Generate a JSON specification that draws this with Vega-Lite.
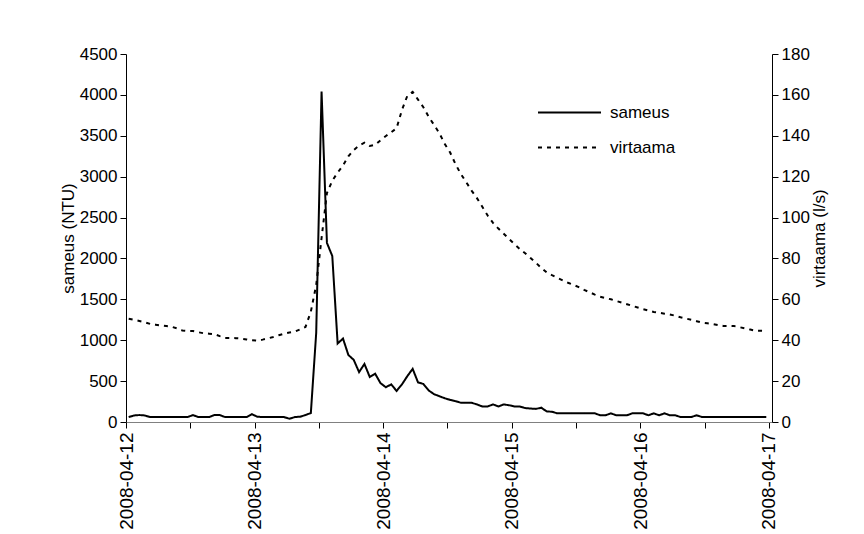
{
  "$schema": "https://vega.github.io/schema/vega-lite/v6.json",
  "width": 646,
  "height": 368,
  "autosize": {"type": "none"},
  "padding": {"left": 126, "top": 54, "right": 92, "bottom": 112},
  "background": "white",
  "config": {
    "view": {"stroke": null},
    "font": "Liberation Sans, Arial, sans-serif",
    "axis": {
      "grid": false,
      "domainColor": "#000000",
      "tickColor": "#000000",
      "labelColor": "#000000",
      "titleColor": "#000000",
      "domainWidth": 1,
      "tickWidth": 1,
      "tickSize": 6,
      "titleFontWeight": "normal",
      "labelFont": "Liberation Sans, Arial, sans-serif",
      "titleFont": "Liberation Sans, Arial, sans-serif"
    }
  },
  "data": {"values": [
    {"t":"2008-04-12T00:30:00Z","sameus":60,"virtaama":50.5},
    {"t":"2008-04-12T01:30:00Z","sameus":80,"virtaama":50.0},
    {"t":"2008-04-12T02:30:00Z","sameus":85,"virtaama":49.4},
    {"t":"2008-04-12T03:30:00Z","sameus":80,"virtaama":48.8},
    {"t":"2008-04-12T04:30:00Z","sameus":60,"virtaama":48.0},
    {"t":"2008-04-12T05:30:00Z","sameus":60,"virtaama":47.6},
    {"t":"2008-04-12T06:30:00Z","sameus":60,"virtaama":47.2},
    {"t":"2008-04-12T07:30:00Z","sameus":60,"virtaama":46.9},
    {"t":"2008-04-12T08:30:00Z","sameus":60,"virtaama":46.6},
    {"t":"2008-04-12T09:30:00Z","sameus":60,"virtaama":45.8},
    {"t":"2008-04-12T10:30:00Z","sameus":60,"virtaama":44.8},
    {"t":"2008-04-12T11:30:00Z","sameus":60,"virtaama":44.5},
    {"t":"2008-04-12T12:30:00Z","sameus":85,"virtaama":44.5},
    {"t":"2008-04-12T13:30:00Z","sameus":60,"virtaama":43.9},
    {"t":"2008-04-12T14:30:00Z","sameus":60,"virtaama":43.4},
    {"t":"2008-04-12T15:30:00Z","sameus":60,"virtaama":43.2},
    {"t":"2008-04-12T16:30:00Z","sameus":85,"virtaama":43.0},
    {"t":"2008-04-12T17:30:00Z","sameus":85,"virtaama":42.0},
    {"t":"2008-04-12T18:30:00Z","sameus":60,"virtaama":41.1},
    {"t":"2008-04-12T19:30:00Z","sameus":60,"virtaama":41.1},
    {"t":"2008-04-12T20:30:00Z","sameus":60,"virtaama":41.0},
    {"t":"2008-04-12T21:30:00Z","sameus":60,"virtaama":40.8},
    {"t":"2008-04-12T22:30:00Z","sameus":60,"virtaama":40.4},
    {"t":"2008-04-12T23:30:00Z","sameus":95,"virtaama":40.0},
    {"t":"2008-04-13T00:30:00Z","sameus":65,"virtaama":39.8},
    {"t":"2008-04-13T01:30:00Z","sameus":60,"virtaama":40.3},
    {"t":"2008-04-13T02:30:00Z","sameus":60,"virtaama":40.9},
    {"t":"2008-04-13T03:30:00Z","sameus":60,"virtaama":41.6},
    {"t":"2008-04-13T04:30:00Z","sameus":60,"virtaama":42.4},
    {"t":"2008-04-13T05:30:00Z","sameus":60,"virtaama":43.2},
    {"t":"2008-04-13T06:30:00Z","sameus":40,"virtaama":43.8},
    {"t":"2008-04-13T07:30:00Z","sameus":60,"virtaama":44.2},
    {"t":"2008-04-13T08:30:00Z","sameus":65,"virtaama":45.3},
    {"t":"2008-04-13T09:30:00Z","sameus":85,"virtaama":46.5},
    {"t":"2008-04-13T10:30:00Z","sameus":110,"virtaama":54},
    {"t":"2008-04-13T11:30:00Z","sameus":1090,"virtaama":67},
    {"t":"2008-04-13T12:30:00Z","sameus":4040,"virtaama":90},
    {"t":"2008-04-13T13:30:00Z","sameus":2190,"virtaama":112},
    {"t":"2008-04-13T14:30:00Z","sameus":2030,"virtaama":118},
    {"t":"2008-04-13T15:30:00Z","sameus":960,"virtaama":122},
    {"t":"2008-04-13T16:30:00Z","sameus":1020,"virtaama":125.5},
    {"t":"2008-04-13T17:30:00Z","sameus":820,"virtaama":130},
    {"t":"2008-04-13T18:30:00Z","sameus":760,"virtaama":133},
    {"t":"2008-04-13T19:30:00Z","sameus":610,"virtaama":135.2},
    {"t":"2008-04-13T20:30:00Z","sameus":710,"virtaama":136.6},
    {"t":"2008-04-13T21:30:00Z","sameus":550,"virtaama":135},
    {"t":"2008-04-13T22:30:00Z","sameus":590,"virtaama":135.6},
    {"t":"2008-04-13T23:30:00Z","sameus":475,"virtaama":137.8},
    {"t":"2008-04-14T00:30:00Z","sameus":425,"virtaama":139.9},
    {"t":"2008-04-14T01:30:00Z","sameus":460,"virtaama":141.7},
    {"t":"2008-04-14T02:30:00Z","sameus":380,"virtaama":143.7},
    {"t":"2008-04-14T03:30:00Z","sameus":460,"virtaama":152.6},
    {"t":"2008-04-14T04:30:00Z","sameus":560,"virtaama":159.5},
    {"t":"2008-04-14T05:30:00Z","sameus":650,"virtaama":161.5},
    {"t":"2008-04-14T06:30:00Z","sameus":485,"virtaama":157.7},
    {"t":"2008-04-14T07:30:00Z","sameus":465,"virtaama":154},
    {"t":"2008-04-14T08:30:00Z","sameus":385,"virtaama":149.2},
    {"t":"2008-04-14T09:30:00Z","sameus":340,"virtaama":145.3},
    {"t":"2008-04-14T10:30:00Z","sameus":315,"virtaama":141.2},
    {"t":"2008-04-14T11:30:00Z","sameus":290,"virtaama":136},
    {"t":"2008-04-14T12:30:00Z","sameus":270,"virtaama":131.8},
    {"t":"2008-04-14T13:30:00Z","sameus":255,"virtaama":126.1},
    {"t":"2008-04-14T14:30:00Z","sameus":235,"virtaama":121.3},
    {"t":"2008-04-14T15:30:00Z","sameus":235,"virtaama":117.3},
    {"t":"2008-04-14T16:30:00Z","sameus":235,"virtaama":113.2},
    {"t":"2008-04-14T17:30:00Z","sameus":215,"virtaama":109.5},
    {"t":"2008-04-14T18:30:00Z","sameus":190,"virtaama":105.3},
    {"t":"2008-04-14T19:30:00Z","sameus":190,"virtaama":101},
    {"t":"2008-04-14T20:30:00Z","sameus":215,"virtaama":97.4},
    {"t":"2008-04-14T21:30:00Z","sameus":190,"virtaama":94.6},
    {"t":"2008-04-14T22:30:00Z","sameus":215,"virtaama":92.1},
    {"t":"2008-04-14T23:30:00Z","sameus":205,"virtaama":89.5},
    {"t":"2008-04-15T00:30:00Z","sameus":190,"virtaama":87},
    {"t":"2008-04-15T01:30:00Z","sameus":190,"virtaama":84.6},
    {"t":"2008-04-15T02:30:00Z","sameus":170,"virtaama":82.5},
    {"t":"2008-04-15T03:30:00Z","sameus":165,"virtaama":80.2},
    {"t":"2008-04-15T04:30:00Z","sameus":160,"virtaama":77.9},
    {"t":"2008-04-15T05:30:00Z","sameus":175,"virtaama":75.4},
    {"t":"2008-04-15T06:30:00Z","sameus":130,"virtaama":73.2},
    {"t":"2008-04-15T07:30:00Z","sameus":125,"virtaama":71.8},
    {"t":"2008-04-15T08:30:00Z","sameus":106,"virtaama":70.5},
    {"t":"2008-04-15T09:30:00Z","sameus":106,"virtaama":69.3},
    {"t":"2008-04-15T10:30:00Z","sameus":106,"virtaama":68.1},
    {"t":"2008-04-15T11:30:00Z","sameus":106,"virtaama":67.1},
    {"t":"2008-04-15T12:30:00Z","sameus":106,"virtaama":66},
    {"t":"2008-04-15T13:30:00Z","sameus":106,"virtaama":64.6},
    {"t":"2008-04-15T14:30:00Z","sameus":106,"virtaama":63.5},
    {"t":"2008-04-15T15:30:00Z","sameus":106,"virtaama":62.3},
    {"t":"2008-04-15T16:30:00Z","sameus":82,"virtaama":61.3},
    {"t":"2008-04-15T17:30:00Z","sameus":82,"virtaama":60.6},
    {"t":"2008-04-15T18:30:00Z","sameus":106,"virtaama":60},
    {"t":"2008-04-15T19:30:00Z","sameus":82,"virtaama":59.2},
    {"t":"2008-04-15T20:30:00Z","sameus":82,"virtaama":58.4},
    {"t":"2008-04-15T21:30:00Z","sameus":82,"virtaama":57.6},
    {"t":"2008-04-15T22:30:00Z","sameus":106,"virtaama":56.8},
    {"t":"2008-04-15T23:30:00Z","sameus":106,"virtaama":56.0},
    {"t":"2008-04-16T00:30:00Z","sameus":106,"virtaama":55.2},
    {"t":"2008-04-16T01:30:00Z","sameus":82,"virtaama":54.5},
    {"t":"2008-04-16T02:30:00Z","sameus":106,"virtaama":53.8},
    {"t":"2008-04-16T03:30:00Z","sameus":82,"virtaama":53.4},
    {"t":"2008-04-16T04:30:00Z","sameus":106,"virtaama":53.0},
    {"t":"2008-04-16T05:30:00Z","sameus":82,"virtaama":52.6},
    {"t":"2008-04-16T06:30:00Z","sameus":82,"virtaama":52.0},
    {"t":"2008-04-16T07:30:00Z","sameus":61,"virtaama":51.2},
    {"t":"2008-04-16T08:30:00Z","sameus":61,"virtaama":50.6},
    {"t":"2008-04-16T09:30:00Z","sameus":61,"virtaama":50.0},
    {"t":"2008-04-16T10:30:00Z","sameus":82,"virtaama":49.3},
    {"t":"2008-04-16T11:30:00Z","sameus":61,"virtaama":48.6},
    {"t":"2008-04-16T12:30:00Z","sameus":61,"virtaama":48.3},
    {"t":"2008-04-16T13:30:00Z","sameus":61,"virtaama":47.9},
    {"t":"2008-04-16T14:30:00Z","sameus":61,"virtaama":47.4},
    {"t":"2008-04-16T15:30:00Z","sameus":61,"virtaama":47.0},
    {"t":"2008-04-16T16:30:00Z","sameus":61,"virtaama":47.0},
    {"t":"2008-04-16T17:30:00Z","sameus":61,"virtaama":46.9},
    {"t":"2008-04-16T18:30:00Z","sameus":61,"virtaama":46.4},
    {"t":"2008-04-16T19:30:00Z","sameus":61,"virtaama":45.8},
    {"t":"2008-04-16T20:30:00Z","sameus":61,"virtaama":45.2},
    {"t":"2008-04-16T21:30:00Z","sameus":61,"virtaama":44.6},
    {"t":"2008-04-16T22:30:00Z","sameus":61,"virtaama":44.6},
    {"t":"2008-04-16T23:30:00Z","sameus":61,"virtaama":44.5}
  ]},
  "layer": [
    {
      "mark": {"type": "line", "color": "#000000", "strokeWidth": 2},
      "encoding": {
        "x": {
          "field": "t", "type": "temporal",
          "scale": {"type": "utc", "domain": [
            {"year": 2008, "month": 4, "date": 12, "hours": 0, "utc": true},
            {"year": 2008, "month": 4, "date": 17, "hours": 0, "minutes": 34, "utc": true}
          ]},
          "axis": {
            "title": null,
            "values": [
              {"year": 2008, "month": 4, "date": 12, "hours": 0, "utc": true},
              {"year": 2008, "month": 4, "date": 12, "hours": 12, "utc": true},
              {"year": 2008, "month": 4, "date": 13, "hours": 0, "utc": true},
              {"year": 2008, "month": 4, "date": 13, "hours": 12, "utc": true},
              {"year": 2008, "month": 4, "date": 14, "hours": 0, "utc": true},
              {"year": 2008, "month": 4, "date": 14, "hours": 12, "utc": true},
              {"year": 2008, "month": 4, "date": 15, "hours": 0, "utc": true},
              {"year": 2008, "month": 4, "date": 15, "hours": 12, "utc": true},
              {"year": 2008, "month": 4, "date": 16, "hours": 0, "utc": true},
              {"year": 2008, "month": 4, "date": 16, "hours": 12, "utc": true},
              {"year": 2008, "month": 4, "date": 17, "hours": 0, "utc": true}
            ],
            "labelExpr": "utchours(datum.value) == 0 ? utcFormat(datum.value, '%Y-%m-%d') : ''",
            "labelAngle": -90,
            "labelFontSize": 19,
            "labelPadding": 4,
            "labelFlush": false,
            "labelOverlap": false,
            "domainColor": "#808080"
          }
        },
        "y": {
          "field": "sameus", "type": "quantitative",
          "scale": {"domain": [0, 4500], "nice": false},
          "axis": {
            "title": "sameus (NTU)",
            "values": [0, 500, 1000, 1500, 2000, 2500, 3000, 3500, 4000, 4500],
            "format": "d",
            "labelFontSize": 17,
            "labelPadding": 3,
            "titleFontSize": 17,
            "titlePadding": 2
          }
        },
        "strokeDash": {
          "datum": "sameus", "type": "nominal",
          "scale": {"domain": ["sameus", "virtaama"], "range": [[1, 0], [4, 5]]},
          "legend": {
            "title": null,
            "orient": "none",
            "legendX": 432,
            "legendY": 47,
            "symbolType": "M-3,0L3,0",
            "symbolSize": 441,
            "symbolStrokeWidth": 2,
            "symbolStrokeColor": "#000000",
            "symbolFillColor": "transparent",
            "labelOffset": 29,
            "labelFontSize": 17,
            "labelColor": "#000000",
            "rowPadding": 15
          }
        }
      }
    },
    {
      "mark": {"type": "line", "color": "#000000", "strokeWidth": 2},
      "encoding": {
        "x": {"field": "t", "type": "temporal"},
        "y": {
          "field": "virtaama", "type": "quantitative",
          "scale": {"domain": [0, 180], "nice": false},
          "axis": {
            "orient": "right",
            "title": "virtaama (l/s)",
            "values": [0, 20, 40, 60, 80, 100, 120, 140, 160, 180],
            "format": "d",
            "labelFontSize": 17,
            "labelPadding": 3,
            "titleFontSize": 17,
            "titleAngle": 270,
            "titleBaseline": "top",
            "titlePadding": 2
          }
        },
        "strokeDash": {"datum": "virtaama", "type": "nominal"}
      }
    }
  ],
  "resolve": {"scale": {"y": "independent"}}
}
